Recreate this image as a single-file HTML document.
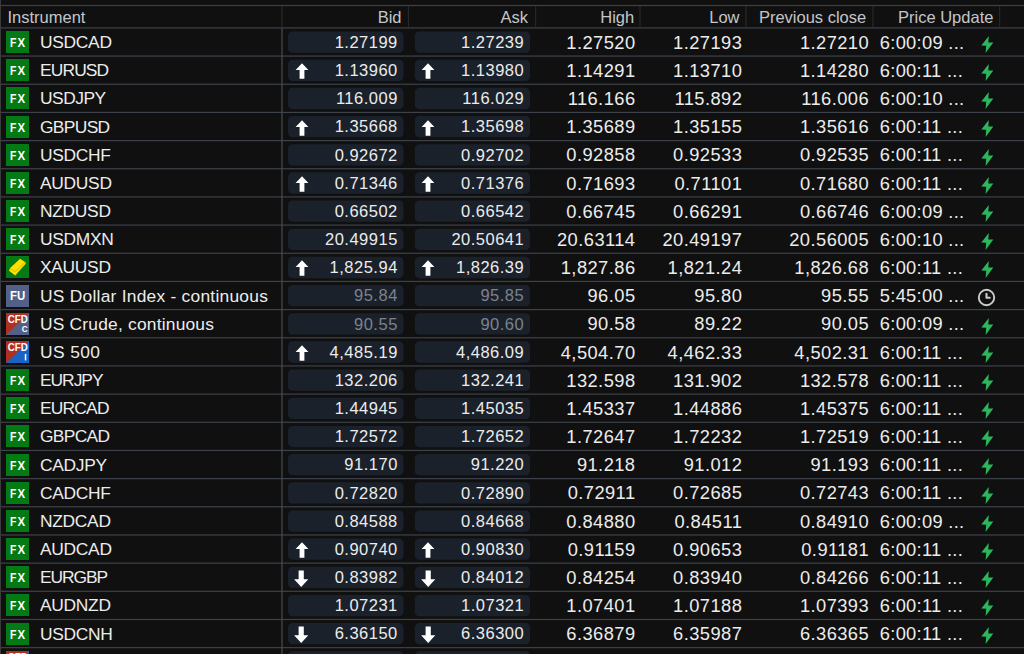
<!DOCTYPE html>
<html><head><meta charset="utf-8"><title>Quotes</title>
<style>
html,body{margin:0;padding:0;background:#101010;}
body{width:1024px;height:654px;overflow:hidden;position:relative;font-family:"Liberation Sans",Arial,sans-serif;}
.t{position:absolute;white-space:nowrap;line-height:0;font-size:17px;color:#ececec;}
.nm{font-size:17.4px;letter-spacing:-0.3px;}
.ba{font-size:16.5px;letter-spacing:0.5px;}
.hl{font-size:18.3px;letter-spacing:0.45px;}
.ud{font-size:18.3px;letter-spacing:0.3px;}
.h{position:absolute;white-space:nowrap;line-height:0;font-size:16.5px;color:#c3c6ca;}
.r{text-align:right;}
.dim{color:#7b8291;}
.abs{position:absolute;}
.ic{font:bold 12px "Liberation Sans",Arial,sans-serif;fill:#fff;}
.ic2{font:bold 11.3px "Liberation Sans",Arial,sans-serif;fill:#fff;}
.ic3{font:bold 8.3px "Liberation Sans",Arial,sans-serif;fill:#fff;}
svg{display:block;}
</style></head><body>

<svg class="abs" style="left:0;top:0" width="1024" height="654" viewBox="0 0 1024 654">
<rect x="0" y="0" width="1" height="654" fill="#3b3b3b"/>
<rect x="1" y="4.90" width="1023" height="1.2" fill="#3d424a"/>
<rect x="281.50" y="6.10" width="1" height="21.20" fill="#2c2c2c"/>
<rect x="407.90" y="6.10" width="1" height="21.20" fill="#2c2c2c"/>
<rect x="535.20" y="6.10" width="1" height="21.20" fill="#2c2c2c"/>
<rect x="639.50" y="6.10" width="1" height="21.20" fill="#2c2c2c"/>
<rect x="745.50" y="6.10" width="1" height="21.20" fill="#2c2c2c"/>
<rect x="872.50" y="6.10" width="1" height="21.20" fill="#2c2c2c"/>
<rect x="999.20" y="6.10" width="1" height="21.20" fill="#2c2c2c"/>
<rect x="1" y="27.30" width="1023" height="1.2" fill="#3d424a"/>
<rect x="1" y="55.47" width="1023" height="1.2" fill="#3d424a"/>
<rect x="1" y="83.64" width="1023" height="1.2" fill="#3d424a"/>
<rect x="1" y="111.81" width="1023" height="1.2" fill="#3d424a"/>
<rect x="1" y="139.98" width="1023" height="1.2" fill="#3d424a"/>
<rect x="1" y="168.15" width="1023" height="1.2" fill="#3d424a"/>
<rect x="1" y="196.32" width="1023" height="1.2" fill="#3d424a"/>
<rect x="1" y="224.49" width="1023" height="1.2" fill="#3d424a"/>
<rect x="1" y="252.66" width="1023" height="1.2" fill="#3d424a"/>
<rect x="1" y="280.83" width="1023" height="1.2" fill="#3d424a"/>
<rect x="1" y="309.00" width="1023" height="1.2" fill="#3d424a"/>
<rect x="1" y="337.17" width="1023" height="1.2" fill="#3d424a"/>
<rect x="1" y="365.34" width="1023" height="1.2" fill="#3d424a"/>
<rect x="1" y="393.51" width="1023" height="1.2" fill="#3d424a"/>
<rect x="1" y="421.68" width="1023" height="1.2" fill="#3d424a"/>
<rect x="1" y="449.85" width="1023" height="1.2" fill="#3d424a"/>
<rect x="1" y="478.02" width="1023" height="1.2" fill="#3d424a"/>
<rect x="1" y="506.19" width="1023" height="1.2" fill="#3d424a"/>
<rect x="1" y="534.36" width="1023" height="1.2" fill="#3d424a"/>
<rect x="1" y="562.53" width="1023" height="1.2" fill="#3d424a"/>
<rect x="1" y="590.70" width="1023" height="1.2" fill="#3d424a"/>
<rect x="1" y="618.87" width="1023" height="1.2" fill="#3d424a"/>
<rect x="1" y="647.04" width="1023" height="1.2" fill="#3d424a"/>
<rect x="281.40" y="28.50" width="1.2" height="626.10" fill="#474c54"/>
<rect x="288.00" y="31.50" width="115.50" height="21.30" rx="4.5" fill="#1b212a"/>
<rect x="414.80" y="31.50" width="115.20" height="21.30" rx="4.5" fill="#1b212a"/>
<rect x="288.00" y="59.67" width="115.50" height="21.30" rx="4.5" fill="#1b212a"/>
<rect x="414.80" y="59.67" width="115.20" height="21.30" rx="4.5" fill="#1b212a"/>
<rect x="288.00" y="87.84" width="115.50" height="21.30" rx="4.5" fill="#1b212a"/>
<rect x="414.80" y="87.84" width="115.20" height="21.30" rx="4.5" fill="#1b212a"/>
<rect x="288.00" y="116.01" width="115.50" height="21.30" rx="4.5" fill="#1b212a"/>
<rect x="414.80" y="116.01" width="115.20" height="21.30" rx="4.5" fill="#1b212a"/>
<rect x="288.00" y="144.18" width="115.50" height="21.30" rx="4.5" fill="#1b212a"/>
<rect x="414.80" y="144.18" width="115.20" height="21.30" rx="4.5" fill="#1b212a"/>
<rect x="288.00" y="172.35" width="115.50" height="21.30" rx="4.5" fill="#1b212a"/>
<rect x="414.80" y="172.35" width="115.20" height="21.30" rx="4.5" fill="#1b212a"/>
<rect x="288.00" y="200.52" width="115.50" height="21.30" rx="4.5" fill="#1b212a"/>
<rect x="414.80" y="200.52" width="115.20" height="21.30" rx="4.5" fill="#1b212a"/>
<rect x="288.00" y="228.69" width="115.50" height="21.30" rx="4.5" fill="#1b212a"/>
<rect x="414.80" y="228.69" width="115.20" height="21.30" rx="4.5" fill="#1b212a"/>
<rect x="288.00" y="256.86" width="115.50" height="21.30" rx="4.5" fill="#1b212a"/>
<rect x="414.80" y="256.86" width="115.20" height="21.30" rx="4.5" fill="#1b212a"/>
<rect x="288.00" y="285.03" width="115.50" height="21.30" rx="4.5" fill="#1b212a"/>
<rect x="414.80" y="285.03" width="115.20" height="21.30" rx="4.5" fill="#1b212a"/>
<rect x="288.00" y="313.20" width="115.50" height="21.30" rx="4.5" fill="#1b212a"/>
<rect x="414.80" y="313.20" width="115.20" height="21.30" rx="4.5" fill="#1b212a"/>
<rect x="288.00" y="341.37" width="115.50" height="21.30" rx="4.5" fill="#1b212a"/>
<rect x="414.80" y="341.37" width="115.20" height="21.30" rx="4.5" fill="#1b212a"/>
<rect x="288.00" y="369.54" width="115.50" height="21.30" rx="4.5" fill="#1b212a"/>
<rect x="414.80" y="369.54" width="115.20" height="21.30" rx="4.5" fill="#1b212a"/>
<rect x="288.00" y="397.71" width="115.50" height="21.30" rx="4.5" fill="#1b212a"/>
<rect x="414.80" y="397.71" width="115.20" height="21.30" rx="4.5" fill="#1b212a"/>
<rect x="288.00" y="425.88" width="115.50" height="21.30" rx="4.5" fill="#1b212a"/>
<rect x="414.80" y="425.88" width="115.20" height="21.30" rx="4.5" fill="#1b212a"/>
<rect x="288.00" y="454.05" width="115.50" height="21.30" rx="4.5" fill="#1b212a"/>
<rect x="414.80" y="454.05" width="115.20" height="21.30" rx="4.5" fill="#1b212a"/>
<rect x="288.00" y="482.22" width="115.50" height="21.30" rx="4.5" fill="#1b212a"/>
<rect x="414.80" y="482.22" width="115.20" height="21.30" rx="4.5" fill="#1b212a"/>
<rect x="288.00" y="510.39" width="115.50" height="21.30" rx="4.5" fill="#1b212a"/>
<rect x="414.80" y="510.39" width="115.20" height="21.30" rx="4.5" fill="#1b212a"/>
<rect x="288.00" y="538.56" width="115.50" height="21.30" rx="4.5" fill="#1b212a"/>
<rect x="414.80" y="538.56" width="115.20" height="21.30" rx="4.5" fill="#1b212a"/>
<rect x="288.00" y="566.73" width="115.50" height="21.30" rx="4.5" fill="#1b212a"/>
<rect x="414.80" y="566.73" width="115.20" height="21.30" rx="4.5" fill="#1b212a"/>
<rect x="288.00" y="594.90" width="115.50" height="21.30" rx="4.5" fill="#1b212a"/>
<rect x="414.80" y="594.90" width="115.20" height="21.30" rx="4.5" fill="#1b212a"/>
<rect x="288.00" y="623.07" width="115.50" height="21.30" rx="4.5" fill="#1b212a"/>
<rect x="414.80" y="623.07" width="115.20" height="21.30" rx="4.5" fill="#1b212a"/>
<rect x="288.00" y="651.24" width="115.50" height="21.30" rx="4.5" fill="#1b212a"/>
<rect x="414.80" y="651.24" width="115.20" height="21.30" rx="4.5" fill="#1b212a"/>
</svg>
<div class="h" style="left:7.50px;top:16.78px">Instrument</div>
<div class="h r" style="right:622.50px;top:16.78px">Bid</div>
<div class="h r" style="right:496.00px;top:16.78px">Ask</div>
<div class="h r" style="right:389.80px;top:16.78px">High</div>
<div class="h r" style="right:284.50px;top:16.78px">Low</div>
<div class="h r" style="right:157.80px;top:16.78px">Previous close</div>
<div class="h r" style="right:30.60px;top:16.78px">Price Update</div>
<div class="abs" style="left:6px;top:31.00px"><svg width="23" height="22" viewBox="0 0 23 22"><rect width="23" height="22" fill="#037a13"/><text x="3.9" y="15.6" textLength="6.4" lengthAdjust="spacingAndGlyphs" class="ic">F</text><text x="11.6" y="15.6" textLength="7.6" lengthAdjust="spacingAndGlyphs" class="ic">X</text></svg></div>
<div class="t nm" style="left:40.00px;top:42.07px">USDCAD</div>
<div class="t ba r" style="right:626.20px;top:41.88px">1.27199</div>
<div class="t ba r" style="right:499.80px;top:41.88px">1.27239</div>
<div class="t hl r" style="right:388.50px;top:42.66px">1.27520</div>
<div class="t hl r" style="right:281.70px;top:42.66px">1.27193</div>
<div class="t hl r" style="right:154.90px;top:42.66px">1.27210</div>
<div class="t ud" style="left:879.80px;top:42.76px">6:00:09 ...</div>
<div class="abs" style="left:980.5px;top:35.90px"><svg width="14" height="18" viewBox="0 0 14 18"><polygon points="7.8,0 0.3,9.6 5.2,9.7 4.6,16.9 12.3,6.5 7.3,6.4" fill="#2cb65c"/></svg></div>
<div class="abs" style="left:6px;top:59.17px"><svg width="23" height="22" viewBox="0 0 23 22"><rect width="23" height="22" fill="#037a13"/><text x="3.9" y="15.6" textLength="6.4" lengthAdjust="spacingAndGlyphs" class="ic">F</text><text x="11.6" y="15.6" textLength="7.6" lengthAdjust="spacingAndGlyphs" class="ic">X</text></svg></div>
<div class="t nm" style="left:40.00px;top:70.24px;letter-spacing:-0.86px">EURUSD</div>
<div class="t ba r" style="right:626.20px;top:70.05px">1.13960</div>
<div class="t ba r" style="right:499.80px;top:70.05px">1.13980</div>
<div class="t hl r" style="right:388.50px;top:70.83px">1.14291</div>
<div class="t hl r" style="right:281.70px;top:70.83px">1.13710</div>
<div class="t hl r" style="right:154.90px;top:70.83px">1.14280</div>
<div class="t ud" style="left:879.80px;top:70.93px">6:00:11 ...</div>
<div class="abs" style="left:294.5px;top:63.27px"><svg width="14" height="17" viewBox="0 0 14 17"><polygon points="7,0.3 13.4,7 9.4,7 9.4,15.8 4.6,15.8 4.6,7 0.6,7" fill="#fff"/></svg></div>
<div class="abs" style="left:421.0px;top:63.27px"><svg width="14" height="17" viewBox="0 0 14 17"><polygon points="7,0.3 13.4,7 9.4,7 9.4,15.8 4.6,15.8 4.6,7 0.6,7" fill="#fff"/></svg></div>
<div class="abs" style="left:980.5px;top:64.07px"><svg width="14" height="18" viewBox="0 0 14 18"><polygon points="7.8,0 0.3,9.6 5.2,9.7 4.6,16.9 12.3,6.5 7.3,6.4" fill="#2cb65c"/></svg></div>
<div class="abs" style="left:6px;top:87.34px"><svg width="23" height="22" viewBox="0 0 23 22"><rect width="23" height="22" fill="#037a13"/><text x="3.9" y="15.6" textLength="6.4" lengthAdjust="spacingAndGlyphs" class="ic">F</text><text x="11.6" y="15.6" textLength="7.6" lengthAdjust="spacingAndGlyphs" class="ic">X</text></svg></div>
<div class="t nm" style="left:40.00px;top:98.41px;letter-spacing:-0.50px">USDJPY</div>
<div class="t ba r" style="right:626.20px;top:98.22px">116.009</div>
<div class="t ba r" style="right:499.80px;top:98.22px">116.029</div>
<div class="t hl r" style="right:388.50px;top:99.00px">116.166</div>
<div class="t hl r" style="right:281.70px;top:99.00px">115.892</div>
<div class="t hl r" style="right:154.90px;top:99.00px">116.006</div>
<div class="t ud" style="left:879.80px;top:99.10px">6:00:10 ...</div>
<div class="abs" style="left:980.5px;top:92.24px"><svg width="14" height="18" viewBox="0 0 14 18"><polygon points="7.8,0 0.3,9.6 5.2,9.7 4.6,16.9 12.3,6.5 7.3,6.4" fill="#2cb65c"/></svg></div>
<div class="abs" style="left:6px;top:115.51px"><svg width="23" height="22" viewBox="0 0 23 22"><rect width="23" height="22" fill="#037a13"/><text x="3.9" y="15.6" textLength="6.4" lengthAdjust="spacingAndGlyphs" class="ic">F</text><text x="11.6" y="15.6" textLength="7.6" lengthAdjust="spacingAndGlyphs" class="ic">X</text></svg></div>
<div class="t nm" style="left:40.00px;top:126.58px;letter-spacing:-0.66px">GBPUSD</div>
<div class="t ba r" style="right:626.20px;top:126.39px">1.35668</div>
<div class="t ba r" style="right:499.80px;top:126.39px">1.35698</div>
<div class="t hl r" style="right:388.50px;top:127.17px">1.35689</div>
<div class="t hl r" style="right:281.70px;top:127.17px">1.35155</div>
<div class="t hl r" style="right:154.90px;top:127.17px">1.35616</div>
<div class="t ud" style="left:879.80px;top:127.27px">6:00:11 ...</div>
<div class="abs" style="left:294.5px;top:119.61px"><svg width="14" height="17" viewBox="0 0 14 17"><polygon points="7,0.3 13.4,7 9.4,7 9.4,15.8 4.6,15.8 4.6,7 0.6,7" fill="#fff"/></svg></div>
<div class="abs" style="left:421.0px;top:119.61px"><svg width="14" height="17" viewBox="0 0 14 17"><polygon points="7,0.3 13.4,7 9.4,7 9.4,15.8 4.6,15.8 4.6,7 0.6,7" fill="#fff"/></svg></div>
<div class="abs" style="left:980.5px;top:120.41px"><svg width="14" height="18" viewBox="0 0 14 18"><polygon points="7.8,0 0.3,9.6 5.2,9.7 4.6,16.9 12.3,6.5 7.3,6.4" fill="#2cb65c"/></svg></div>
<div class="abs" style="left:6px;top:143.68px"><svg width="23" height="22" viewBox="0 0 23 22"><rect width="23" height="22" fill="#037a13"/><text x="3.9" y="15.6" textLength="6.4" lengthAdjust="spacingAndGlyphs" class="ic">F</text><text x="11.6" y="15.6" textLength="7.6" lengthAdjust="spacingAndGlyphs" class="ic">X</text></svg></div>
<div class="t nm" style="left:40.00px;top:154.75px">USDCHF</div>
<div class="t ba r" style="right:626.20px;top:154.56px">0.92672</div>
<div class="t ba r" style="right:499.80px;top:154.56px">0.92702</div>
<div class="t hl r" style="right:388.50px;top:155.34px">0.92858</div>
<div class="t hl r" style="right:281.70px;top:155.34px">0.92533</div>
<div class="t hl r" style="right:154.90px;top:155.34px">0.92535</div>
<div class="t ud" style="left:879.80px;top:155.44px">6:00:11 ...</div>
<div class="abs" style="left:980.5px;top:148.58px"><svg width="14" height="18" viewBox="0 0 14 18"><polygon points="7.8,0 0.3,9.6 5.2,9.7 4.6,16.9 12.3,6.5 7.3,6.4" fill="#2cb65c"/></svg></div>
<div class="abs" style="left:6px;top:171.85px"><svg width="23" height="22" viewBox="0 0 23 22"><rect width="23" height="22" fill="#037a13"/><text x="3.9" y="15.6" textLength="6.4" lengthAdjust="spacingAndGlyphs" class="ic">F</text><text x="11.6" y="15.6" textLength="7.6" lengthAdjust="spacingAndGlyphs" class="ic">X</text></svg></div>
<div class="t nm" style="left:40.00px;top:182.92px">AUDUSD</div>
<div class="t ba r" style="right:626.20px;top:182.73px">0.71346</div>
<div class="t ba r" style="right:499.80px;top:182.73px">0.71376</div>
<div class="t hl r" style="right:388.50px;top:183.51px">0.71693</div>
<div class="t hl r" style="right:281.70px;top:183.51px">0.71101</div>
<div class="t hl r" style="right:154.90px;top:183.51px">0.71680</div>
<div class="t ud" style="left:879.80px;top:183.61px">6:00:11 ...</div>
<div class="abs" style="left:294.5px;top:175.95px"><svg width="14" height="17" viewBox="0 0 14 17"><polygon points="7,0.3 13.4,7 9.4,7 9.4,15.8 4.6,15.8 4.6,7 0.6,7" fill="#fff"/></svg></div>
<div class="abs" style="left:421.0px;top:175.95px"><svg width="14" height="17" viewBox="0 0 14 17"><polygon points="7,0.3 13.4,7 9.4,7 9.4,15.8 4.6,15.8 4.6,7 0.6,7" fill="#fff"/></svg></div>
<div class="abs" style="left:980.5px;top:176.75px"><svg width="14" height="18" viewBox="0 0 14 18"><polygon points="7.8,0 0.3,9.6 5.2,9.7 4.6,16.9 12.3,6.5 7.3,6.4" fill="#2cb65c"/></svg></div>
<div class="abs" style="left:6px;top:200.02px"><svg width="23" height="22" viewBox="0 0 23 22"><rect width="23" height="22" fill="#037a13"/><text x="3.9" y="15.6" textLength="6.4" lengthAdjust="spacingAndGlyphs" class="ic">F</text><text x="11.6" y="15.6" textLength="7.6" lengthAdjust="spacingAndGlyphs" class="ic">X</text></svg></div>
<div class="t nm" style="left:40.00px;top:211.09px">NZDUSD</div>
<div class="t ba r" style="right:626.20px;top:210.90px">0.66502</div>
<div class="t ba r" style="right:499.80px;top:210.90px">0.66542</div>
<div class="t hl r" style="right:388.50px;top:211.68px">0.66745</div>
<div class="t hl r" style="right:281.70px;top:211.68px">0.66291</div>
<div class="t hl r" style="right:154.90px;top:211.68px">0.66746</div>
<div class="t ud" style="left:879.80px;top:211.78px">6:00:09 ...</div>
<div class="abs" style="left:980.5px;top:204.92px"><svg width="14" height="18" viewBox="0 0 14 18"><polygon points="7.8,0 0.3,9.6 5.2,9.7 4.6,16.9 12.3,6.5 7.3,6.4" fill="#2cb65c"/></svg></div>
<div class="abs" style="left:6px;top:228.19px"><svg width="23" height="22" viewBox="0 0 23 22"><rect width="23" height="22" fill="#037a13"/><text x="3.9" y="15.6" textLength="6.4" lengthAdjust="spacingAndGlyphs" class="ic">F</text><text x="11.6" y="15.6" textLength="7.6" lengthAdjust="spacingAndGlyphs" class="ic">X</text></svg></div>
<div class="t nm" style="left:40.00px;top:239.26px">USDMXN</div>
<div class="t ba r" style="right:626.20px;top:239.07px">20.49915</div>
<div class="t ba r" style="right:499.80px;top:239.07px">20.50641</div>
<div class="t hl r" style="right:388.50px;top:239.85px">20.63114</div>
<div class="t hl r" style="right:281.70px;top:239.85px">20.49197</div>
<div class="t hl r" style="right:154.90px;top:239.85px">20.56005</div>
<div class="t ud" style="left:879.80px;top:239.95px">6:00:10 ...</div>
<div class="abs" style="left:980.5px;top:233.09px"><svg width="14" height="18" viewBox="0 0 14 18"><polygon points="7.8,0 0.3,9.6 5.2,9.7 4.6,16.9 12.3,6.5 7.3,6.4" fill="#2cb65c"/></svg></div>
<div class="abs" style="left:6px;top:256.36px"><svg width="23" height="22" viewBox="0 0 23 22"><rect width="23" height="22" fill="#037a13"/><polygon points="3,14.7 4.1,12.1 14.1,2.7 19.1,5.9 19.9,7.4 9.2,19.6" fill="#ffdf00"/><polyline points="4.2,12.6 9.2,15.6 19.3,6.2" fill="none" stroke="#b7b400" stroke-width="0.8"/></svg></div>
<div class="t nm" style="left:40.00px;top:267.43px">XAUUSD</div>
<div class="t ba r" style="right:626.20px;top:267.24px">1,825.94</div>
<div class="t ba r" style="right:499.80px;top:267.24px">1,826.39</div>
<div class="t hl r" style="right:388.50px;top:268.02px">1,827.86</div>
<div class="t hl r" style="right:281.70px;top:268.02px">1,821.24</div>
<div class="t hl r" style="right:154.90px;top:268.02px">1,826.68</div>
<div class="t ud" style="left:879.80px;top:268.12px">6:00:11 ...</div>
<div class="abs" style="left:294.5px;top:260.46px"><svg width="14" height="17" viewBox="0 0 14 17"><polygon points="7,0.3 13.4,7 9.4,7 9.4,15.8 4.6,15.8 4.6,7 0.6,7" fill="#fff"/></svg></div>
<div class="abs" style="left:421.0px;top:260.46px"><svg width="14" height="17" viewBox="0 0 14 17"><polygon points="7,0.3 13.4,7 9.4,7 9.4,15.8 4.6,15.8 4.6,7 0.6,7" fill="#fff"/></svg></div>
<div class="abs" style="left:980.5px;top:261.26px"><svg width="14" height="18" viewBox="0 0 14 18"><polygon points="7.8,0 0.3,9.6 5.2,9.7 4.6,16.9 12.3,6.5 7.3,6.4" fill="#2cb65c"/></svg></div>
<div class="abs" style="left:6px;top:284.53px"><svg width="23" height="22" viewBox="0 0 23 22"><rect width="23" height="22" fill="#536088"/><text x="4.1" y="15.4" textLength="15.2" lengthAdjust="spacingAndGlyphs" class="ic">FU</text></svg></div>
<div class="t nm" style="left:40.00px;top:295.60px;letter-spacing:0.24px">US Dollar Index - continuous</div>
<div class="t ba dim r" style="right:626.20px;top:295.41px">95.84</div>
<div class="t ba dim r" style="right:499.80px;top:295.41px">95.85</div>
<div class="t hl r" style="right:388.50px;top:296.19px">96.05</div>
<div class="t hl r" style="right:281.70px;top:296.19px">95.80</div>
<div class="t hl r" style="right:154.90px;top:296.19px">95.55</div>
<div class="t ud" style="left:879.80px;top:296.29px">5:45:00 ...</div>
<div class="abs" style="left:977.1px;top:288.33px"><svg width="19" height="19" viewBox="0 0 19 19"><circle cx="9.5" cy="9.5" r="7.7" fill="none" stroke="#c9cbce" stroke-width="1.9"/><polyline points="9.5,5.9 9.5,9.7 12.7,9.7" fill="none" stroke="#c9cbce" stroke-width="2.1" stroke-linejoin="round" stroke-linecap="round"/></svg></div>
<div class="abs" style="left:6px;top:312.70px"><svg width="23" height="22" viewBox="0 0 23 22"><rect width="23" height="22" fill="#536088"/><polygon points="0,0 23,0 0,22" fill="#b0301f"/><text x="1.8" y="9.8" textLength="20" lengthAdjust="spacingAndGlyphs" class="ic2">CFD</text><text x="15.8" y="19.2" textLength="6" lengthAdjust="spacingAndGlyphs" class="ic3">C</text></svg></div>
<div class="t nm" style="left:40.00px;top:323.77px;letter-spacing:0.20px">US Crude, continuous</div>
<div class="t ba dim r" style="right:626.20px;top:323.58px">90.55</div>
<div class="t ba dim r" style="right:499.80px;top:323.58px">90.60</div>
<div class="t hl r" style="right:388.50px;top:324.36px">90.58</div>
<div class="t hl r" style="right:281.70px;top:324.36px">89.22</div>
<div class="t hl r" style="right:154.90px;top:324.36px">90.05</div>
<div class="t ud" style="left:879.80px;top:324.46px">6:00:09 ...</div>
<div class="abs" style="left:980.5px;top:317.60px"><svg width="14" height="18" viewBox="0 0 14 18"><polygon points="7.8,0 0.3,9.6 5.2,9.7 4.6,16.9 12.3,6.5 7.3,6.4" fill="#2cb65c"/></svg></div>
<div class="abs" style="left:6px;top:340.87px"><svg width="23" height="22" viewBox="0 0 23 22"><rect width="23" height="22" fill="#1863c4"/><polygon points="0,0 23,0 0,22" fill="#b0301f"/><text x="1.8" y="9.8" textLength="20" lengthAdjust="spacingAndGlyphs" class="ic2">CFD</text><rect x="18.8" y="13" width="1.5" height="6.4" fill="#fff"/></svg></div>
<div class="t nm" style="left:40.00px;top:351.94px;letter-spacing:0.40px">US 500</div>
<div class="t ba r" style="right:626.20px;top:351.75px">4,485.19</div>
<div class="t ba r" style="right:499.80px;top:351.75px">4,486.09</div>
<div class="t hl r" style="right:388.50px;top:352.53px">4,504.70</div>
<div class="t hl r" style="right:281.70px;top:352.53px">4,462.33</div>
<div class="t hl r" style="right:154.90px;top:352.53px">4,502.31</div>
<div class="t ud" style="left:879.80px;top:352.63px">6:00:11 ...</div>
<div class="abs" style="left:294.5px;top:344.97px"><svg width="14" height="17" viewBox="0 0 14 17"><polygon points="7,0.3 13.4,7 9.4,7 9.4,15.8 4.6,15.8 4.6,7 0.6,7" fill="#fff"/></svg></div>
<div class="abs" style="left:980.5px;top:345.77px"><svg width="14" height="18" viewBox="0 0 14 18"><polygon points="7.8,0 0.3,9.6 5.2,9.7 4.6,16.9 12.3,6.5 7.3,6.4" fill="#2cb65c"/></svg></div>
<div class="abs" style="left:6px;top:369.04px"><svg width="23" height="22" viewBox="0 0 23 22"><rect width="23" height="22" fill="#037a13"/><text x="3.9" y="15.6" textLength="6.4" lengthAdjust="spacingAndGlyphs" class="ic">F</text><text x="11.6" y="15.6" textLength="7.6" lengthAdjust="spacingAndGlyphs" class="ic">X</text></svg></div>
<div class="t nm" style="left:40.00px;top:380.11px;letter-spacing:-1.02px">EURJPY</div>
<div class="t ba r" style="right:626.20px;top:379.92px">132.206</div>
<div class="t ba r" style="right:499.80px;top:379.92px">132.241</div>
<div class="t hl r" style="right:388.50px;top:380.70px">132.598</div>
<div class="t hl r" style="right:281.70px;top:380.70px">131.902</div>
<div class="t hl r" style="right:154.90px;top:380.70px">132.578</div>
<div class="t ud" style="left:879.80px;top:380.80px">6:00:11 ...</div>
<div class="abs" style="left:980.5px;top:373.94px"><svg width="14" height="18" viewBox="0 0 14 18"><polygon points="7.8,0 0.3,9.6 5.2,9.7 4.6,16.9 12.3,6.5 7.3,6.4" fill="#2cb65c"/></svg></div>
<div class="abs" style="left:6px;top:397.21px"><svg width="23" height="22" viewBox="0 0 23 22"><rect width="23" height="22" fill="#037a13"/><text x="3.9" y="15.6" textLength="6.4" lengthAdjust="spacingAndGlyphs" class="ic">F</text><text x="11.6" y="15.6" textLength="7.6" lengthAdjust="spacingAndGlyphs" class="ic">X</text></svg></div>
<div class="t nm" style="left:40.00px;top:408.28px;letter-spacing:-0.80px">EURCAD</div>
<div class="t ba r" style="right:626.20px;top:408.09px">1.44945</div>
<div class="t ba r" style="right:499.80px;top:408.09px">1.45035</div>
<div class="t hl r" style="right:388.50px;top:408.87px">1.45337</div>
<div class="t hl r" style="right:281.70px;top:408.87px">1.44886</div>
<div class="t hl r" style="right:154.90px;top:408.87px">1.45375</div>
<div class="t ud" style="left:879.80px;top:408.97px">6:00:11 ...</div>
<div class="abs" style="left:980.5px;top:402.11px"><svg width="14" height="18" viewBox="0 0 14 18"><polygon points="7.8,0 0.3,9.6 5.2,9.7 4.6,16.9 12.3,6.5 7.3,6.4" fill="#2cb65c"/></svg></div>
<div class="abs" style="left:6px;top:425.38px"><svg width="23" height="22" viewBox="0 0 23 22"><rect width="23" height="22" fill="#037a13"/><text x="3.9" y="15.6" textLength="6.4" lengthAdjust="spacingAndGlyphs" class="ic">F</text><text x="11.6" y="15.6" textLength="7.6" lengthAdjust="spacingAndGlyphs" class="ic">X</text></svg></div>
<div class="t nm" style="left:40.00px;top:436.45px;letter-spacing:-0.70px">GBPCAD</div>
<div class="t ba r" style="right:626.20px;top:436.26px">1.72572</div>
<div class="t ba r" style="right:499.80px;top:436.26px">1.72652</div>
<div class="t hl r" style="right:388.50px;top:437.04px">1.72647</div>
<div class="t hl r" style="right:281.70px;top:437.04px">1.72232</div>
<div class="t hl r" style="right:154.90px;top:437.04px">1.72519</div>
<div class="t ud" style="left:879.80px;top:437.14px">6:00:11 ...</div>
<div class="abs" style="left:980.5px;top:430.28px"><svg width="14" height="18" viewBox="0 0 14 18"><polygon points="7.8,0 0.3,9.6 5.2,9.7 4.6,16.9 12.3,6.5 7.3,6.4" fill="#2cb65c"/></svg></div>
<div class="abs" style="left:6px;top:453.55px"><svg width="23" height="22" viewBox="0 0 23 22"><rect width="23" height="22" fill="#037a13"/><text x="3.9" y="15.6" textLength="6.4" lengthAdjust="spacingAndGlyphs" class="ic">F</text><text x="11.6" y="15.6" textLength="7.6" lengthAdjust="spacingAndGlyphs" class="ic">X</text></svg></div>
<div class="t nm" style="left:40.00px;top:464.62px">CADJPY</div>
<div class="t ba r" style="right:626.20px;top:464.43px">91.170</div>
<div class="t ba r" style="right:499.80px;top:464.43px">91.220</div>
<div class="t hl r" style="right:388.50px;top:465.21px">91.218</div>
<div class="t hl r" style="right:281.70px;top:465.21px">91.012</div>
<div class="t hl r" style="right:154.90px;top:465.21px">91.193</div>
<div class="t ud" style="left:879.80px;top:465.31px">6:00:11 ...</div>
<div class="abs" style="left:980.5px;top:458.45px"><svg width="14" height="18" viewBox="0 0 14 18"><polygon points="7.8,0 0.3,9.6 5.2,9.7 4.6,16.9 12.3,6.5 7.3,6.4" fill="#2cb65c"/></svg></div>
<div class="abs" style="left:6px;top:481.72px"><svg width="23" height="22" viewBox="0 0 23 22"><rect width="23" height="22" fill="#037a13"/><text x="3.9" y="15.6" textLength="6.4" lengthAdjust="spacingAndGlyphs" class="ic">F</text><text x="11.6" y="15.6" textLength="7.6" lengthAdjust="spacingAndGlyphs" class="ic">X</text></svg></div>
<div class="t nm" style="left:40.00px;top:492.79px">CADCHF</div>
<div class="t ba r" style="right:626.20px;top:492.60px">0.72820</div>
<div class="t ba r" style="right:499.80px;top:492.60px">0.72890</div>
<div class="t hl r" style="right:388.50px;top:493.38px">0.72911</div>
<div class="t hl r" style="right:281.70px;top:493.38px">0.72685</div>
<div class="t hl r" style="right:154.90px;top:493.38px">0.72743</div>
<div class="t ud" style="left:879.80px;top:493.48px">6:00:11 ...</div>
<div class="abs" style="left:980.5px;top:486.62px"><svg width="14" height="18" viewBox="0 0 14 18"><polygon points="7.8,0 0.3,9.6 5.2,9.7 4.6,16.9 12.3,6.5 7.3,6.4" fill="#2cb65c"/></svg></div>
<div class="abs" style="left:6px;top:509.89px"><svg width="23" height="22" viewBox="0 0 23 22"><rect width="23" height="22" fill="#037a13"/><text x="3.9" y="15.6" textLength="6.4" lengthAdjust="spacingAndGlyphs" class="ic">F</text><text x="11.6" y="15.6" textLength="7.6" lengthAdjust="spacingAndGlyphs" class="ic">X</text></svg></div>
<div class="t nm" style="left:40.00px;top:520.96px">NZDCAD</div>
<div class="t ba r" style="right:626.20px;top:520.77px">0.84588</div>
<div class="t ba r" style="right:499.80px;top:520.77px">0.84668</div>
<div class="t hl r" style="right:388.50px;top:521.55px">0.84880</div>
<div class="t hl r" style="right:281.70px;top:521.55px">0.84511</div>
<div class="t hl r" style="right:154.90px;top:521.55px">0.84910</div>
<div class="t ud" style="left:879.80px;top:521.65px">6:00:09 ...</div>
<div class="abs" style="left:980.5px;top:514.79px"><svg width="14" height="18" viewBox="0 0 14 18"><polygon points="7.8,0 0.3,9.6 5.2,9.7 4.6,16.9 12.3,6.5 7.3,6.4" fill="#2cb65c"/></svg></div>
<div class="abs" style="left:6px;top:538.06px"><svg width="23" height="22" viewBox="0 0 23 22"><rect width="23" height="22" fill="#037a13"/><text x="3.9" y="15.6" textLength="6.4" lengthAdjust="spacingAndGlyphs" class="ic">F</text><text x="11.6" y="15.6" textLength="7.6" lengthAdjust="spacingAndGlyphs" class="ic">X</text></svg></div>
<div class="t nm" style="left:40.00px;top:549.13px">AUDCAD</div>
<div class="t ba r" style="right:626.20px;top:548.94px">0.90740</div>
<div class="t ba r" style="right:499.80px;top:548.94px">0.90830</div>
<div class="t hl r" style="right:388.50px;top:549.72px">0.91159</div>
<div class="t hl r" style="right:281.70px;top:549.72px">0.90653</div>
<div class="t hl r" style="right:154.90px;top:549.72px">0.91181</div>
<div class="t ud" style="left:879.80px;top:549.82px">6:00:11 ...</div>
<div class="abs" style="left:294.5px;top:542.16px"><svg width="14" height="17" viewBox="0 0 14 17"><polygon points="7,0.3 13.4,7 9.4,7 9.4,15.8 4.6,15.8 4.6,7 0.6,7" fill="#fff"/></svg></div>
<div class="abs" style="left:421.0px;top:542.16px"><svg width="14" height="17" viewBox="0 0 14 17"><polygon points="7,0.3 13.4,7 9.4,7 9.4,15.8 4.6,15.8 4.6,7 0.6,7" fill="#fff"/></svg></div>
<div class="abs" style="left:980.5px;top:542.96px"><svg width="14" height="18" viewBox="0 0 14 18"><polygon points="7.8,0 0.3,9.6 5.2,9.7 4.6,16.9 12.3,6.5 7.3,6.4" fill="#2cb65c"/></svg></div>
<div class="abs" style="left:6px;top:566.23px"><svg width="23" height="22" viewBox="0 0 23 22"><rect width="23" height="22" fill="#037a13"/><text x="3.9" y="15.6" textLength="6.4" lengthAdjust="spacingAndGlyphs" class="ic">F</text><text x="11.6" y="15.6" textLength="7.6" lengthAdjust="spacingAndGlyphs" class="ic">X</text></svg></div>
<div class="t nm" style="left:40.00px;top:577.30px;letter-spacing:-1.08px">EURGBP</div>
<div class="t ba r" style="right:626.20px;top:577.11px">0.83982</div>
<div class="t ba r" style="right:499.80px;top:577.11px">0.84012</div>
<div class="t hl r" style="right:388.50px;top:577.89px">0.84254</div>
<div class="t hl r" style="right:281.70px;top:577.89px">0.83940</div>
<div class="t hl r" style="right:154.90px;top:577.89px">0.84266</div>
<div class="t ud" style="left:879.80px;top:577.99px">6:00:11 ...</div>
<div class="abs" style="left:294.0px;top:570.03px"><svg width="15" height="18" viewBox="0 0 15 18"><polygon points="7.2,17.0 14.3,9.3 9.8,9.3 9.8,0.5 4.6,0.5 4.6,9.3 0.1,9.3" fill="#fff"/></svg></div>
<div class="abs" style="left:420.6px;top:570.03px"><svg width="15" height="18" viewBox="0 0 15 18"><polygon points="7.2,17.0 14.3,9.3 9.8,9.3 9.8,0.5 4.6,0.5 4.6,9.3 0.1,9.3" fill="#fff"/></svg></div>
<div class="abs" style="left:980.5px;top:571.13px"><svg width="14" height="18" viewBox="0 0 14 18"><polygon points="7.8,0 0.3,9.6 5.2,9.7 4.6,16.9 12.3,6.5 7.3,6.4" fill="#2cb65c"/></svg></div>
<div class="abs" style="left:6px;top:594.40px"><svg width="23" height="22" viewBox="0 0 23 22"><rect width="23" height="22" fill="#037a13"/><text x="3.9" y="15.6" textLength="6.4" lengthAdjust="spacingAndGlyphs" class="ic">F</text><text x="11.6" y="15.6" textLength="7.6" lengthAdjust="spacingAndGlyphs" class="ic">X</text></svg></div>
<div class="t nm" style="left:40.00px;top:605.47px">AUDNZD</div>
<div class="t ba r" style="right:626.20px;top:605.28px">1.07231</div>
<div class="t ba r" style="right:499.80px;top:605.28px">1.07321</div>
<div class="t hl r" style="right:388.50px;top:606.06px">1.07401</div>
<div class="t hl r" style="right:281.70px;top:606.06px">1.07188</div>
<div class="t hl r" style="right:154.90px;top:606.06px">1.07393</div>
<div class="t ud" style="left:879.80px;top:606.16px">6:00:11 ...</div>
<div class="abs" style="left:980.5px;top:599.30px"><svg width="14" height="18" viewBox="0 0 14 18"><polygon points="7.8,0 0.3,9.6 5.2,9.7 4.6,16.9 12.3,6.5 7.3,6.4" fill="#2cb65c"/></svg></div>
<div class="abs" style="left:6px;top:622.57px"><svg width="23" height="22" viewBox="0 0 23 22"><rect width="23" height="22" fill="#037a13"/><text x="3.9" y="15.6" textLength="6.4" lengthAdjust="spacingAndGlyphs" class="ic">F</text><text x="11.6" y="15.6" textLength="7.6" lengthAdjust="spacingAndGlyphs" class="ic">X</text></svg></div>
<div class="t nm" style="left:40.00px;top:633.64px">USDCNH</div>
<div class="t ba r" style="right:626.20px;top:633.45px">6.36150</div>
<div class="t ba r" style="right:499.80px;top:633.45px">6.36300</div>
<div class="t hl r" style="right:388.50px;top:634.23px">6.36879</div>
<div class="t hl r" style="right:281.70px;top:634.23px">6.35987</div>
<div class="t hl r" style="right:154.90px;top:634.23px">6.36365</div>
<div class="t ud" style="left:879.80px;top:634.33px">6:00:11 ...</div>
<div class="abs" style="left:294.0px;top:626.37px"><svg width="15" height="18" viewBox="0 0 15 18"><polygon points="7.2,17.0 14.3,9.3 9.8,9.3 9.8,0.5 4.6,0.5 4.6,9.3 0.1,9.3" fill="#fff"/></svg></div>
<div class="abs" style="left:420.6px;top:626.37px"><svg width="15" height="18" viewBox="0 0 15 18"><polygon points="7.2,17.0 14.3,9.3 9.8,9.3 9.8,0.5 4.6,0.5 4.6,9.3 0.1,9.3" fill="#fff"/></svg></div>
<div class="abs" style="left:980.5px;top:627.47px"><svg width="14" height="18" viewBox="0 0 14 18"><polygon points="7.8,0 0.3,9.6 5.2,9.7 4.6,16.9 12.3,6.5 7.3,6.4" fill="#2cb65c"/></svg></div>
<div class="abs" style="left:6px;top:650.74px"><svg width="23" height="22" viewBox="0 0 23 22"><rect width="23" height="22" fill="#1863c4"/><polygon points="0,0 23,0 0,22" fill="#b0301f"/><text x="1.8" y="9.8" textLength="20" lengthAdjust="spacingAndGlyphs" class="ic2">CFD</text><rect x="18.8" y="13" width="1.5" height="6.4" fill="#fff"/></svg></div>
</body></html>
